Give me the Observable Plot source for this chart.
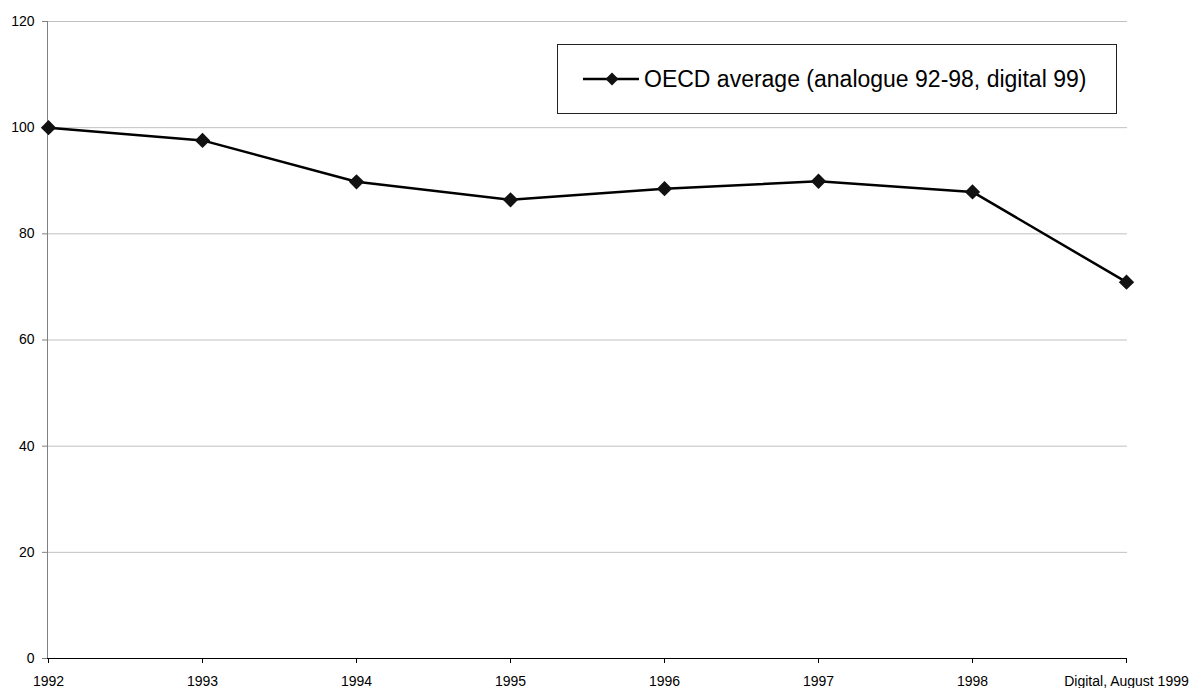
<!DOCTYPE html>
<html>
<head>
<meta charset="utf-8">
<script src="https://cdn.jsdelivr.net/npm/d3@7"></script>
<script src="https://cdn.jsdelivr.net/npm/@observablehq/plot@0.6"></script>
<style>
  html, body { margin: 0; padding: 0; background: #fff; }
  #wrap { position: relative; width: 1198px; height: 688px; overflow: hidden; font-family: "Liberation Sans", Arial, sans-serif; }
  #legend { position: absolute; left: 557px; top: 44px; width: 558px; height: 68px; border: 1px solid #222; background: #fff; box-sizing: content-box; }
  #legend svg { position: absolute; left: 25px; top: 0; }
  #legend span { position: absolute; left: 86px; top: 0; font-size: 23px; line-height: 68px; white-space: nowrap; color: #000; }
</style>
</head>
<body>
<div id="wrap"></div>
<script>
const categories = ["1992", "1993", "1994", "1995", "1996", "1997", "1998", "Digital, August 1999"];
const values = [100, 97.6, 89.8, 86.4, 88.5, 89.9, 87.9, 70.9];
const yTicks = [0, 20, 40, 60, 80, 100, 120];
const seriesName = "OECD average (analogue 92-98, digital 99)";

const data = categories.map((c, i) => ({category: c, value: values[i]}));

const chart = Plot.plot({
  width: 1198,
  height: 688,
  marginLeft: 47,
  marginRight: 71,
  marginTop: 21,
  marginBottom: 30,
  style: {fontFamily: "'Liberation Sans', Arial, sans-serif", fontSize: "14px", color: "#000", background: "#fff", overflow: "visible"},
  x: {type: "point", domain: categories, padding: 0},
  y: {domain: [0, 120]},
  marks: [
    Plot.gridY(yTicks.filter(d => d > 0), {stroke: "#c0c0c0", strokeOpacity: 1}),
    Plot.axisY({ticks: yTicks, tickSize: 5, tickPadding: 8, stroke: "#808080", fill: "#000", fontSize: 14, label: null}),
    Plot.axisX({tickSize: 5, tickPadding: 13, stroke: "#000", fill: "#000", fontSize: 14, label: null}),
    Plot.frame({anchor: "left", stroke: "#808080"}),
    Plot.ruleY([0], {stroke: "#000"}),
    Plot.line(data, {x: "category", y: "value", stroke: "#000", strokeWidth: 2.5}),
    Plot.dot(data, {x: "category", y: "value", symbol: "diamond2", r: 6.9, fill: "#111", stroke: "none"})
  ]
});

const wrap = document.getElementById("wrap");
wrap.appendChild(chart);

const legend = document.createElement("div");
legend.id = "legend";
legend.innerHTML = `<svg width="58" height="68" viewBox="0 0 58 68">
  <line x1="0" y1="34" x2="56" y2="34" stroke="#000" stroke-width="2.5"></line>
  <path d="M29,27.5 L35.5,34 L29,40.5 L22.5,34 Z" fill="#111"></path>
</svg><span></span>`;
legend.querySelector("span").textContent = seriesName;
wrap.appendChild(legend);
</script>
</body>
</html>
